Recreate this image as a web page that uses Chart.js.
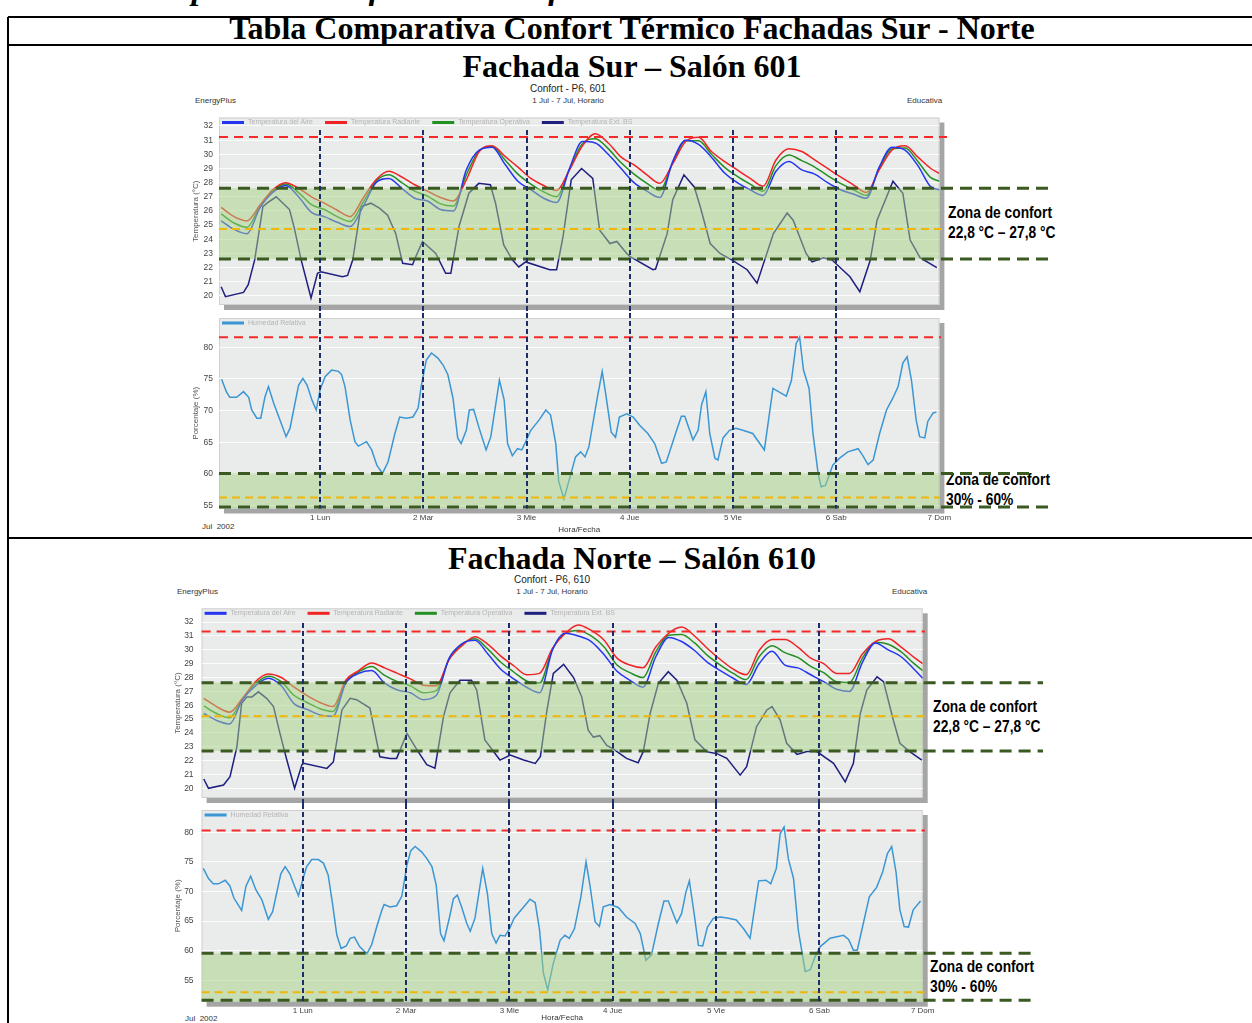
<!DOCTYPE html>
<html>
<head>
<meta charset="utf-8">
<script src="https://cdn.jsdelivr.net/npm/chart.js@4.4.1/dist/chart.umd.min.js"></script>
<style>
  body { margin: 0; width: 1252px; height: 1023px; overflow: hidden; background: #fff; position: relative;
         font-family: "Liberation Sans", Arial, sans-serif; }
  .abs { position: absolute; white-space: nowrap; line-height: 1; }
  .cv { position: absolute; left: 0; }
  .hline { position: absolute; left: 8px; right: 0; height: 2px; background: #000; }
  .vline { position: absolute; left: 7px; top: 17px; bottom: 0; width: 2px; background: #000; }
  .big { left: 8px; width: 1248px; text-align: center; font-family: "Liberation Serif", "Times New Roman", serif;
         font-weight: bold; font-size: 32px; }
  .hdr { font-size: 10px; color: #222; transform: translateX(-50%); }
  .sub { font-size: 8px; color: #333; transform: translateX(-50%); }
  .sm { font-size: 8px; color: #333; }
  .zona { font-weight: bold; font-size: 16px; line-height: 20px; color: #000; transform: scaleX(0.86); transform-origin: 0 0; }
</style>
</head>
<body>
<div class="abs" style="left:-6px;top:-28px;font-family:'Liberation Serif',serif;font-style:italic;font-weight:bold;font-size:33px;">Tabla 13. Comparativa Confort Térmico fachadas Sur – Norte</div>
<div class="hline" style="top:16px"></div>
<div class="hline" style="top:44px"></div>
<div class="hline" style="top:537px"></div>
<div class="vline"></div>

<div class="abs big" style="top:12px">Tabla Comparativa Confort Térmico Fachadas Sur - Norte</div>
<div class="abs big" style="top:50px">Fachada Sur – Salón 601</div>
<div class="abs hdr" style="left:568px;top:84px">Confort - P6, 601</div>
<div class="abs sub" style="left:568px;top:97px">1 Jul - 7 Jul, Horario</div>
<div class="abs sm" style="left:195px;top:97px">EnergyPlus</div>
<div class="abs sm" style="left:907px;top:97px">Educativa</div>
<div class="abs sm" style="left:202px;top:523px">Jul&nbsp; 2002</div>
<div class="abs zona" style="left:948px;top:203px">Zona de confort<br>22,8 °C – 27,8 °C</div>
<div class="abs zona" style="left:946px;top:470px">Zona de confort<br>30% - 60%</div>

<div class="abs big" style="top:542px">Fachada Norte – Salón 610</div>
<div class="abs hdr" style="left:552px;top:575px">Confort - P6, 610</div>
<div class="abs sub" style="left:552px;top:588px">1 Jul - 7 Jul, Horario</div>
<div class="abs sm" style="left:177px;top:588px">EnergyPlus</div>
<div class="abs sm" style="left:892px;top:588px">Educativa</div>
<div class="abs sm" style="left:185px;top:1015px">Jul&nbsp; 2002</div>
<div class="abs zona" style="left:933px;top:697px">Zona de confort<br>22,8 °C – 27,8 °C</div>
<div class="abs zona" style="left:930px;top:957px">Zona de confort<br>30% - 60%</div>

<canvas id="surTemp" class="cv" width="1060" height="203" style="top:110px"></canvas>
<canvas id="surHum" class="cv" width="1060" height="222" style="top:313px"></canvas>
<canvas id="norteTemp" class="cv" width="1060" height="204" style="top:600px"></canvas>
<canvas id="norteHum" class="cv" width="1060" height="219" style="top:804px"></canvas>

<script>
// hourly axis (1 Jul 01:00 .. 7 Jul 24:00)
const gridHours = [1, 4, 7, 10, 13, 16, 19, 22, 25, 28, 31, 34, 37, 40, 43, 46,
  49, 52, 55, 58, 61, 64, 67, 70, 73, 76, 79, 82, 85, 88, 91, 94,
  97, 100, 103, 106, 109, 112, 115, 118, 121, 124, 127, 130, 133, 136, 139, 142,
  145, 148, 151, 154, 157, 160, 163, 166, 168];
const dayTicks = [24, 48, 72, 96, 120, 144, 168];
const dayLabels = ["1 Lun", "2 Mar", "3 Mie", "4 Jue", "5 Vie", "6 Sab", "7 Dom"];
const dayLines = [24, 48, 72, 96, 120, 144];
const tempTicks = [20, 21, 22, 23, 24, 25, 26, 27, 28, 29, 30, 31, 32];
const humTicks = [55, 60, 65, 70, 75, 80];
const tempNames = ["Temperatura del Aire", "Temperatura Radiante", "Temperatura Operativa", "Temperatura Ext. BS"];
const humName = "Humedad Relativa";

// ---- Fachada Sur, salon 601 ----
const surAire = [25.3, 24.7, 24.4, 26.2, 27.3, 27.8, 27.0, 25.9,
  25.6, 25.2, 24.9, 26.3, 28.0, 28.3, 27.6, 26.9,
  26.7, 26.1, 26.0, 28.9, 30.3, 30.5, 29.3, 28.1,
  27.5, 26.9, 26.6, 29.0, 30.9, 30.8, 30.0, 29.0,
  28.0, 27.4, 26.95, 29.5, 31.0, 30.7, 29.8, 28.7,
  28.0, 27.5, 27.1, 28.8, 29.5, 28.9, 28.6, 28.0,
  27.5, 27.2, 26.9, 29.1, 30.5, 30.3, 29.2, 27.7, 27.5];
const surRadiante = [26.25, 25.6, 25.3, 26.4, 27.5, 28.0, 27.6, 27.0,
  26.55, 26.05, 25.6, 26.9, 28.2, 28.8, 28.4, 27.85,
  27.4, 26.95, 26.7, 28.2, 30.2, 30.6, 29.85, 29.1,
  28.3, 27.8, 27.45, 28.9, 30.6, 31.45, 30.8, 29.8,
  29.25, 28.55, 27.95, 29.35, 30.9, 31.2, 30.2, 29.5,
  28.9, 28.3, 27.75, 29.6, 30.4, 30.2, 29.6, 29.0,
  28.4, 27.85, 27.3, 28.9, 30.3, 30.6, 29.8, 29.0, 28.65];
const surOperativa = [25.8, 25.15, 24.85, 26.3, 27.4, 27.9, 27.3, 26.45,
  26.1, 25.6, 25.25, 26.6, 28.1, 28.55, 28.0, 27.4,
  27.05, 26.5, 26.35, 28.55, 30.25, 30.55, 29.6, 28.6,
  27.9, 27.35, 27.0, 28.95, 30.75, 31.1, 30.4, 29.4,
  28.6, 27.95, 27.45, 29.4, 30.95, 30.95, 30.0, 29.1,
  28.45, 27.9, 27.4, 29.2, 29.95, 29.55, 29.1, 28.5,
  27.95, 27.5, 27.1, 29.0, 30.4, 30.45, 29.5, 28.35, 28.1];
const surExtHoras = [1, 2, 6.2, 7.3, 8.8, 10.7, 11.9, 13.8, 16.9, 18, 19.6, 21.9, 23.4,
  24.2, 29.2, 30.4, 31.6, 33.5, 35.8, 37.8, 39.7, 41.6, 43.2, 45.5, 46.3, 47.8,
  50.9, 53.2, 54.4, 56.3, 58.6, 60.9, 63.6, 64.8, 66.7, 68.7, 70.2, 71.8,
  77.4, 79, 80.5, 82.4, 84.8, 87.4, 89, 91.4, 93, 95.3, 96,
  101.4, 102, 104.7, 106, 108.6, 111, 112.4, 114.7, 117, 120,
  123.3, 125.6, 129.4, 132.6, 134, 137, 138.4, 141, 143,
  147.2, 149.5, 151.9, 153.5, 157.2, 159.5, 161.2, 163.5, 167.4];
const surExt = [20.65, 19.95, 20.25, 20.8, 22.55, 26.3, 26.6, 27.0, 26.1, 24.8, 22.55, 19.85, 21.6,
  21.7, 21.35, 21.45, 22.55, 26.3, 26.55, 26.2, 25.7, 24.4, 22.3, 22.2, 22.8, 23.85,
  23.0, 21.6, 21.6, 24.9, 27.25, 27.95, 27.85, 26.55, 23.6, 22.55, 22.05, 22.4,
  21.85, 21.85, 24.2, 28.2, 29.0, 28.3, 24.65, 23.7, 23.85, 23.0, 22.8,
  21.85, 21.9, 24.4, 26.8, 28.55, 27.7, 26.3, 23.7, 23.0, 22.5,
  21.85, 20.9, 24.4, 25.85, 25.35, 23.0, 22.4, 22.7, 22.55,
  21.35, 20.3, 22.5, 25.35, 28.1, 27.25, 23.95, 22.7, 22.0];
const surHumHoras = [1.1, 2.2, 3, 4.6, 6.2, 7.4, 8.1, 9.3, 10.2, 11.2, 12, 13.2, 14.7, 16.1, 17, 19, 20, 21, 22.1, 23.1,
  24, 25.2, 26.7, 28.3, 29, 29.8, 31, 32.1, 32.9, 34.8, 36, 37.2, 38.5, 39.8, 41.4, 42.5, 44.1, 45.6, 46.8, 47.5,
  48.7, 49.9, 51.4, 52.6, 53.7, 54.9, 56, 56.8, 58, 58.7, 59.7, 61, 62.6, 63.7, 65.7, 66.8, 67.6, 68.7, 69.9, 70.9, 71.8,
  73, 74.9, 76.5, 77.6, 78.8, 79.5, 80.7, 81.9, 83.4, 84.6, 85.6, 86.5, 88.5, 89.6, 90.4, 91.7, 92.7, 93.6, 95.3,
  96.8, 98.3, 100.2, 101.8, 103.4, 104.5, 106.9, 108, 108.8, 110.7, 111.9, 112.7, 113.7, 114.6, 115.8, 116.5, 117.7, 119.2,
  120.7, 122.3, 124.6, 127.3, 129.3, 132.4, 133.6, 134.7, 135.5, 136.4, 137.7, 138.6, 139.8, 140.5, 141.5, 143.2,
  144.8, 146.7, 149.1, 150.2, 151.4, 152.6, 154.1, 155.7, 157.2, 158.4, 159.5, 160.5, 161.5, 162.6, 163.4, 164.6, 165.3, 166.5, 167.3];
const surHum = [74.95, 73.0, 72.1, 72.1, 73.0, 72.1, 70.1, 68.8, 68.8, 72.2, 73.8, 71.2, 68.5, 65.9, 67.2, 74.0, 75.1, 74.0, 71.7, 70.1,
  73.3, 75.4, 76.4, 76.2, 75.7, 73.8, 68.5, 65.1, 64.4, 65.1, 63.8, 61.4, 60.1, 61.9, 66.4, 69.0, 68.8, 69.0, 70.4, 73.8,
  78.0, 79.1, 78.3, 77.2, 75.7, 72.0, 65.7, 64.8, 66.9, 70.1, 70.2, 67.2, 63.8, 65.9, 74.8, 71.7, 64.8, 62.9, 64.0, 63.8, 65.1,
  66.9, 68.5, 70.1, 69.3, 64.8, 58.8, 56.1, 59.0, 62.7, 63.5, 62.7, 64.3, 72.2, 76.2, 72.7, 66.6, 65.8, 69.0, 69.5,
  69.0, 67.7, 66.4, 64.8, 61.7, 61.9, 66.9, 69.1, 69.1, 65.4, 66.9, 70.9, 73.0, 66.4, 62.5, 62.2, 65.7, 66.9,
  67.2, 66.9, 66.4, 63.8, 73.5, 72.3, 74.8, 80.6, 81.6, 76.4, 73.5, 66.4, 60.1, 58.0, 58.2, 61.4,
  62.5, 63.5, 64.0, 62.9, 61.5, 62.2, 66.4, 70.1, 72.0, 73.8, 77.5, 78.5, 74.8, 68.5, 65.9, 65.7, 68.3, 69.6, 69.8];
// limits drawn on the Sur charts
const surTempMax = 31.22, surTempUpper = 27.6, surTempMean = 24.73, surTempLower = 22.6;
const surHumMax = 81.6, surHumUpper = 60.1, surHumMean = 56.3, surHumLower = 54.65;

// ---- Fachada Norte, salon 610 ----
const norteAire = [25.4, 24.9, 24.65, 26.4, 27.4, 27.95, 27.4, 26.1,
  25.7, 25.3, 25.2, 27.6, 28.3, 28.5, 27.6, 27.1,
  26.9, 26.4, 26.7, 29.4, 30.45, 30.7, 29.7, 28.6,
  27.9, 27.3, 26.9, 30.0, 31.2, 31.0, 30.6, 29.65,
  28.45, 27.8, 27.3, 29.5, 30.9, 30.6, 29.95, 29.1,
  28.5, 27.95, 27.5, 29.0, 29.9, 28.9, 28.7, 28.2,
  27.7, 27.15, 27.0, 29.1, 30.5, 30.0, 29.5, 28.6, 27.95];
const norteRadiante = [26.5, 25.9, 25.5, 26.5, 27.7, 28.25, 28.0, 27.3,
  26.7, 26.2, 25.9, 27.8, 28.5, 29.05, 28.7, 28.3,
  27.9, 27.45, 27.4, 29.3, 30.3, 30.95, 30.4, 29.55,
  28.85, 28.2, 28.3, 30.1, 31.2, 31.8, 31.4, 30.7,
  29.4, 28.9, 28.7, 30.2, 31.2, 31.65, 31.0, 30.1,
  29.3, 28.6, 28.2, 29.95, 30.75, 30.75, 30.2, 29.4,
  29.0, 28.3, 28.3, 29.7, 30.6, 30.8, 30.2, 29.45, 29.0];
const norteOperativa = [25.95, 25.4, 25.1, 26.45, 27.55, 28.1, 27.7, 26.7,
  26.2, 25.75, 25.55, 27.7, 28.4, 28.8, 28.15, 27.7,
  27.4, 26.9, 27.05, 29.35, 30.4, 30.8, 30.05, 29.1,
  28.4, 27.75, 27.6, 30.05, 31.2, 31.4, 31.0, 30.2,
  28.9, 28.35, 28.0, 29.85, 31.05, 31.1, 30.5, 29.6,
  28.9, 28.3, 27.85, 29.5, 30.3, 29.8, 29.45, 28.8,
  28.35, 27.7, 27.65, 29.4, 30.55, 30.4, 29.85, 29.0, 28.5];
const norteExtHoras = [1, 2.1, 5.6, 7.1, 8.7, 9.8, 11, 12.2, 13.7, 15.6, 17.2, 18.7, 20.3, 22.1, 23.8,
  24.2, 29.6, 31.1, 33.1, 35, 36.5, 39.6, 41.9, 44.3, 45.8, 48.2,
  50.5, 52.8, 54.7, 56.7, 58.2, 60.5, 63.2, 64.4, 66.3, 69.8, 72.2,
  75.3, 78, 79.2, 80.7, 82.2, 84.6, 86.9, 88.8, 90.3, 91.5, 93, 94.6, 96.1,
  99.2, 101.9, 103.1, 104.7, 106.6, 108.9, 110.9, 113.2, 115.1, 117.8, 120.2,
  122.5, 125.6, 127.1, 129.4, 131.8, 133, 134.9, 136.4, 138.8, 141.1, 143.4,
  147.3, 150, 151.9, 153.5, 155, 157.4, 158.9, 161.2, 162.7, 165, 167.8];
const norteExt = [20.67, 20.0, 20.24, 20.84, 23.0, 26.14, 26.6, 26.6, 26.97, 26.5, 25.9, 23.97, 22.04, 20.0, 21.7,
  21.8, 21.44, 21.9, 25.66, 26.5, 26.4, 25.8, 22.28, 22.16, 22.16, 23.97,
  22.8, 21.7, 21.45, 25.2, 26.9, 27.8, 27.8, 27.1, 23.5, 22.04, 22.4,
  22.04, 21.8, 22.3, 25.6, 28.3, 28.95, 28.0, 26.6, 24.2, 23.7, 23.8, 23.1, 22.85,
  22.16, 21.85, 22.65, 25.42, 27.58, 28.42, 27.8, 26.14, 23.5, 22.65, 22.5,
  22.16, 20.95, 21.56, 24.45, 25.66, 25.9, 24.93, 23.25, 22.45, 22.65, 22.65,
  21.8, 20.47, 21.8, 25.4, 27.1, 28.05, 27.7, 24.9, 23.25, 22.65, 22.04];
const norteHumHoras = [0.9, 2.1, 3.2, 4.4, 6, 7.1, 8, 9.8, 10.8, 11.9, 13.1, 14.5, 16, 17, 18.9, 19.9, 21, 22.1, 23,
  24, 24.9, 26.1, 27.6, 28.8, 29.9, 30.9, 31.9, 32.9, 34.1, 35, 36, 37.2, 38.9, 40, 41.2, 42.4, 42.9, 44.3, 45.8, 47,
  48.2, 49.1, 50.1, 51.6, 52.8, 54, 55, 56, 56.8, 58.1, 59, 59.9, 60.9, 62.1, 62.9, 64, 65.8, 66.9, 67.9, 68.9, 69.8, 71,
  72, 73.1, 75.3, 76.8, 78, 79, 79.9, 80.9, 82.2, 83.8, 84.9, 85.9, 87.1, 88.6, 89.8, 90.7, 91.9, 92.9, 93.8, 95.4,
  97.3, 99.2, 101.2, 102.4, 103.7, 105, 106.6, 107.9, 108.9, 110.9, 112, 113, 113.8, 114.9, 115.9, 116.9, 118, 119.4,
  121, 122.9, 124.7, 126.4, 127.9, 129.9, 131.6, 132.7, 134, 134.9, 135.8, 136.8, 138, 139.1, 140.7, 141.9, 143,
  144.2, 146.5, 149.6, 150.8, 151.9, 152.8, 154.2, 155.6, 157.3, 158.7, 159.8, 160.8, 161.8, 162.7, 163.7, 164.7, 165.8, 167.5];
const norteHum = [73.9, 72.2, 71.3, 71.3, 71.9, 70.9, 68.9, 66.8, 70.9, 72.6, 70.3, 68.6, 65.3, 66.6, 73.0, 74.2, 73.0, 70.9, 69.3,
  72.0, 74.2, 75.4, 75.4, 74.8, 72.8, 68.0, 62.7, 60.4, 60.8, 62.1, 62.3, 60.7, 59.5, 61.0, 64.1, 66.9, 67.8, 67.4, 67.6, 69.2,
  74.5, 76.9, 77.6, 76.7, 75.6, 74.2, 71.1, 62.9, 61.7, 65.7, 68.8, 69.4, 67.4, 64.6, 63.3, 65.5, 73.9, 69.6, 62.9, 61.3, 62.6, 62.5,
  63.7, 65.5, 67.4, 68.7, 68.1, 63.5, 56.2, 53.4, 57.9, 61.8, 62.6, 62.1, 63.7, 69.1, 75.0, 71.1, 64.9, 64.1, 67.4, 67.8,
  67.3, 65.7, 64.6, 62.9, 58.4, 59.3, 64.6, 68.4, 68.4, 64.7, 66.3, 69.9, 71.8, 66.3, 60.9, 60.8, 64.0, 65.5,
  65.7, 65.5, 65.2, 63.7, 62.1, 71.8, 71.9, 71.3, 73.9, 79.8, 80.9, 75.5, 72.2, 63.5, 56.5, 56.8, 59.0,
  60.7, 62.1, 62.6, 61.9, 60.1, 60.1, 64.6, 69.1, 70.7, 73.3, 76.4, 77.6, 73.3, 66.9, 64.1, 64.0, 66.9, 68.4];
const norteTempMax = 31.32, norteTempUpper = 27.63, norteTempMean = 25.2, norteTempLower = 22.7;
const norteHumMax = 80.3, norteHumUpper = 59.56, norteHumMean = 53.0, norteHumLower = 51.4;

const FONT = '"Liberation Sans", Arial, sans-serif';
const RED_DASH = { color: "#f42a2a", width: 2, dash: [9, 6] };
const GREEN_DASH = { color: "#3b5a22", width: 3, dash: [12, 7] };
const YELLOW_DASH = { color: "#f0b60a", width: 2, dash: [8, 5] };

// frame, shadow, comfort band, reference lines, day separators and legend
const framePlugin = {
  id: "frame",
  beforeDraw(chart, args, o) {
    const { ctx, chartArea: a } = chart;
    ctx.save();
    ctx.fillStyle = "#a5a5a5";
    ctx.fillRect(a.left + 5, a.top + 5, a.width, a.height);
    ctx.fillStyle = "#eaebeb";
    ctx.fillRect(a.left, a.top, a.width, a.height);
    ctx.strokeStyle = "#d0d0d0";
    ctx.lineWidth = 1;
    ctx.strokeRect(a.left + 0.5, a.top + 0.5, a.width - 1, a.height - 1);
    ctx.restore();
  },
  afterDatasetsDraw(chart, args, o) {
    const { ctx, chartArea: a, scales } = chart;
    const x = scales.x, y = scales.y;
    ctx.save();
    const yb1 = y.getPixelForValue(o.band[1]);
    const yb0 = Math.min(y.getPixelForValue(o.band[0]), a.bottom);
    ctx.fillStyle = "rgba(165,210,130,0.5)";
    ctx.fillRect(a.left, yb1, a.width, yb0 - yb1);
    o.lines.forEach((l) => {
      const py = Math.min(y.getPixelForValue(l.value), a.bottom - 1.5);
      ctx.beginPath();
      ctx.setLineDash(l.style.dash);
      ctx.strokeStyle = l.style.color;
      ctx.lineWidth = l.style.width;
      ctx.moveTo(a.left, py);
      ctx.lineTo(l.end, py);
      ctx.stroke();
    });
    ctx.setLineDash([5, 3]);
    ctx.strokeStyle = "#1b2d6a";
    ctx.lineWidth = 2;
    dayLines.forEach((d) => {
      const px = Math.round(x.getPixelForValue(d));
      ctx.beginPath();
      ctx.moveTo(px, o.vTop);
      ctx.lineTo(px, o.vToArea ? a.bottom : chart.height);
      ctx.stroke();
    });
    ctx.restore();
  },
  afterDraw(chart) {
    const { ctx, chartArea: a } = chart;
    let lx = a.left + 3;
    const ly = a.top + 5;
    ctx.save();
    ctx.font = "7px " + FONT;
    ctx.textBaseline = "middle";
    chart.data.datasets.forEach((ds) => {
      ctx.strokeStyle = ds.borderColor;
      ctx.lineWidth = 3;
      ctx.beginPath();
      ctx.moveTo(lx, ly);
      ctx.lineTo(lx + 22, ly);
      ctx.stroke();
      lx += 26;
      ctx.fillStyle = "#b4b4b4";
      ctx.fillText(ds.label, lx, ly);
      lx += ctx.measureText(ds.label).width + 12;
    });
    ctx.restore();
  },
};

function series(label, hours, values, color, smooth) {
  return {
    label,
    data: hours.map((h, i) => ({ x: h, y: values[i] })),
    borderColor: color,
    backgroundColor: color,
    borderWidth: 1.5,
    pointRadius: 0,
    tension: 0,
    cubicInterpolationMode: smooth ? "monotone" : "default",
  };
}

function noPad(s) {
  s.paddingTop = 0;
  s.paddingBottom = 0;
  s.paddingLeft = 0;
  s.paddingRight = 0;
}

function yAxis(c, ticks, title) {
  return {
    min: c.yMin,
    max: c.yMax,
    afterBuildTicks: (s) => { s.ticks = ticks.map((v) => ({ value: v })); },
    afterFit: (s) => { s.width = c.axisW; noPad(s); },
    grid: { color: "rgba(255,255,255,0.8)", drawTicks: false },
    border: { display: false },
    ticks: { padding: c.tickPad, color: "#444", font: { size: 8.5, family: FONT } },
    title: { display: true, text: title, padding: 0, color: "#555", font: { size: 8, family: FONT } },
  };
}

function makeChart(id, datasets, c, ticks, title, withDays) {
  return new Chart(document.getElementById(id), {
    type: "line",
    data: { datasets },
    options: {
      responsive: false,
      animation: false,
      events: [],
      layout: { padding: c.pad },
      plugins: {
        legend: { display: false },
        tooltip: { enabled: false },
        frame: { band: c.band, lines: c.lines, vTop: c.vTop, vToArea: withDays },
      },
      scales: {
        x: withDays ? {
          type: "linear", min: 0.5, max: 168,
          afterBuildTicks: (s) => { s.ticks = dayTicks.map((v) => ({ value: v })); },
          afterFit: (s) => { s.height = c.xAxisH; noPad(s); },
          grid: { display: false, drawTicks: false },
          border: { display: false },
          ticks: { autoSkip: false, maxRotation: 0, padding: 4, color: "#444",
                   font: { size: 8, family: FONT },
                   callback: (v) => dayLabels[dayTicks.indexOf(v)] },
          title: { display: true, text: "Hora/Fecha", padding: 0, color: "#333", font: { size: 8, family: FONT } },
        } : { type: "linear", min: 0.5, max: 168, display: false },
        y: yAxis(c, ticks, title),
      },
    },
    plugins: [framePlugin],
  });
}

function tempSets(aire, rad, oper, extH, ext) {
  return [
    series(tempNames[0], gridHours, aire, "#2436f0", true),
    series(tempNames[1], gridHours, rad, "#f02424", true),
    series(tempNames[2], gridHours, oper, "#239023", true),
    series(tempNames[3], extH, ext, "#1f1f80", false),
  ];
}

// Sur
makeChart("surTemp", tempSets(surAire, surRadiante, surOperativa, surExtHoras, surExt), {
  pad: { left: 191, right: 120.6, top: 7.5, bottom: 8 }, axisW: 28, tickPad: 6,
  yMin: 19.36, yMax: 32.6, band: [surTempLower, surTempUpper], vTop: 20,
  lines: [
    { value: surTempMax, end: 947, style: RED_DASH },
    { value: surTempUpper, end: 1050, style: GREEN_DASH },
    { value: surTempMean, end: 947, style: YELLOW_DASH },
    { value: surTempLower, end: 1050, style: GREEN_DASH },
  ],
}, tempTicks, "Temperatura (°C)", false);

makeChart("surHum", [series(humName, surHumHoras, surHum, "#3b97d3", false)], {
  pad: { left: 191, right: 120.6, top: 5, bottom: 0 }, axisW: 28, tickPad: 6, xAxisH: 26.5,
  yMin: 54.56, yMax: 84.62, band: [surHumLower, surHumUpper], vTop: 0,
  lines: [
    { value: surHumMax, end: 941, style: RED_DASH },
    { value: surHumUpper, end: 1033, style: GREEN_DASH },
    { value: surHumMean, end: 940, style: YELLOW_DASH },
    { value: surHumLower, end: 1048, style: GREEN_DASH },
  ],
}, humTicks, "Porcentaje (%)", true);

// Norte
makeChart("norteTemp", tempSets(norteAire, norteRadiante, norteOperativa, norteExtHoras, norteExt), {
  pad: { left: 173, right: 137.3, top: 8.3, bottom: 6 }, axisW: 28.6, tickPad: 8,
  yMin: 19.3, yMax: 33.0, band: [norteTempLower, norteTempUpper], vTop: 23,
  lines: [
    { value: norteTempMax, end: 925, style: RED_DASH },
    { value: norteTempUpper, end: 1043, style: GREEN_DASH },
    { value: norteTempMean, end: 925, style: YELLOW_DASH },
    { value: norteTempLower, end: 1043, style: GREEN_DASH },
  ],
}, tempTicks, "Temperatura (°C)", false);

makeChart("norteHum", [series(humName, norteHumHoras, norteHum, "#3b97d3", false)], {
  pad: { left: 173, right: 137.3, top: 6, bottom: 0 }, axisW: 28.6, tickPad: 8, xAxisH: 21.3,
  yMin: 51.39, yMax: 83.77, band: [norteHumLower, norteHumUpper], vTop: 0,
  lines: [
    { value: norteHumMax, end: 925, style: RED_DASH },
    { value: norteHumUpper, end: 1033, style: GREEN_DASH },
    { value: norteHumMean, end: 925, style: YELLOW_DASH },
    { value: norteHumLower, end: 1033, style: GREEN_DASH },
  ],
}, humTicks, "Porcentaje (%)", true);
</script>
</body>
</html>
